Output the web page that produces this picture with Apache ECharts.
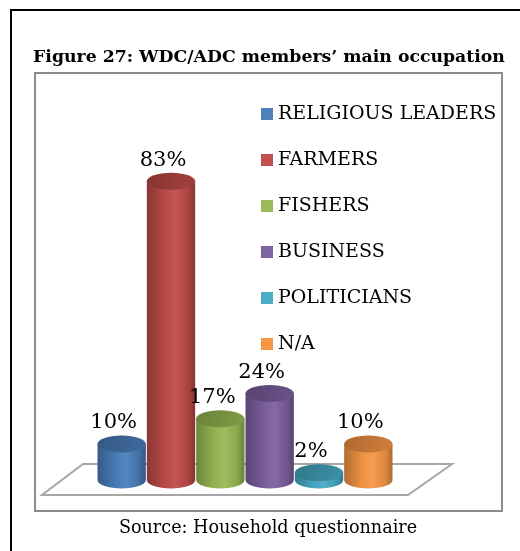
<!DOCTYPE html>
<html>
<head>
<meta charset="utf-8">
<script src="https://cdn.jsdelivr.net/npm/echarts@6/dist/echarts.min.js"></script>
<style>
  html, body { margin: 0; padding: 0; background: #fff; }
  #chart { width: 520px; height: 551px; }
</style>
</head>
<body>
<div id="chart"></div>
<script>
// Occupation categories and their shares (%)
const categories = ['RELIGIOUS LEADERS', 'FARMERS', 'FISHERS', 'BUSINESS', 'POLITICIANS', 'N/A'];
const shares = [10, 83, 17, 24, 2, 10];
const bodyColors = ['#4A7EBB', '#BE4B48', '#98B954', '#7D60A0', '#46AAC5', '#F79646'];
const legendColors = ['#4F81BD', '#C0504D', '#9BBB59', '#8064A2', '#4BACC6', '#F79646'];

const FONT = '"DejaVu Serif", "Liberation Serif", serif';

function shade(hex, f) {
  const n = parseInt(hex.slice(1), 16);
  let r = (n >> 16) & 255, g = (n >> 8) & 255, b = n & 255;
  const adj = c => {
    const v = f < 1 ? c * f : c + (255 - c) * (f - 1);
    return Math.max(0, Math.min(255, Math.round(v)));
  };
  return 'rgb(' + adj(r) + ',' + adj(g) + ',' + adj(b) + ')';
}

// One cylinder per category
function renderCylinder(params, api) {
  const idx = api.value(0);
  const v = api.value(1);
  const base = api.coord([idx, 0]);
  const top = api.coord([idx, v]);
  const bw = api.size([1, 0])[0];
  const rx = bw / 2 - 0.5;
  const ry = 8.5;
  const cx = base[0];
  const col = bodyColors[idx];
  const bodyFill = new echarts.graphic.LinearGradient(0, 0, 1, 0, [
    { offset: 0, color: shade(col, 0.72) },
    { offset: 0.35, color: shade(col, 0.95) },
    { offset: 0.6, color: shade(col, 1.06) },
    { offset: 0.85, color: shade(col, 0.9) },
    { offset: 1, color: shade(col, 0.7) }
  ]);
  const topFill = new echarts.graphic.LinearGradient(0, 0, 1, 1, [
    { offset: 0, color: shade(col, 0.7) },
    { offset: 1, color: shade(col, 0.85) }
  ]);
  const x0 = cx - rx, x1 = cx + rx;
  const pathData = 'M' + x0 + ' ' + top[1] +
    ' L' + x0 + ' ' + base[1] +
    ' A' + rx + ' ' + ry + ' 0 0 0 ' + x1 + ' ' + base[1] +
    ' L' + x1 + ' ' + top[1] + ' Z';
  return {
    type: 'group',
    children: [
      {
        type: 'path',
        shape: { pathData: pathData },
        style: { fill: bodyFill, stroke: null }
      },
      {
        type: 'ellipse',
        shape: { cx: cx, cy: top[1], rx: rx, ry: ry },
        style: { fill: topFill, stroke: null }
      },
      {
        type: 'text',
        x: cx - 8,
        y: top[1] - ry - 2,
        style: {
          text: v + '%',
          fill: '#000',
          font: '21px ' + FONT,
          align: 'center',
          verticalAlign: 'bottom'
        }
      }
    ]
  };
}

// Floor plate under the cylinders
function renderFloor(params, api) {
  const first = api.coord([0, 0]);
  const last = api.coord([categories.length - 1, 0]);
  const bw = api.size([1, 0])[0];
  const L = first[0] - bw / 2;
  const R = last[0] + bw / 2;
  const y = first[1];
  return {
    type: 'polygon',
    shape: {
      points: [
        [L - 14, y - 16],
        [R + 59, y - 16],
        [R + 15, y + 15],
        [L - 55, y + 15]
      ]
    },
    style: { fill: '#fff', stroke: '#a6a6a6', lineWidth: 2 }
  };
}

const series = [{
  type: 'custom',
  name: '_floor',
  renderItem: renderFloor,
  data: [[0, 0]],
  silent: true,
  z: 1
}];
categories.forEach((name, i) => {
  series.push({
    type: 'custom',
    name: name,
    renderItem: renderCylinder,
    data: [[i, shares[i]]],
    encode: { x: 0, y: 1 },
    itemStyle: { color: legendColors[i] },
    z: 2 + i
  });
});

const chart = echarts.init(document.getElementById('chart'), null, { renderer: 'canvas' });
chart.setOption({
  backgroundColor: '#fff',
  animation: false,
  title: {
    text: 'Figure 27: WDC/ADC members\u2019 main occupation',
    left: 269,
    top: 49,
    textAlign: 'center',
    padding: 0,
    textStyle: { fontFamily: FONT, fontWeight: 'bold', fontSize: 17.3, color: '#000' }
  },
  graphic: [
    {
      type: 'rect',
      shape: { x: 11, y: 10, width: 600, height: 600 },
      style: { fill: null, stroke: '#000', lineWidth: 2 },
      z: 0
    },
    {
      type: 'rect',
      shape: { x: 35, y: 73, width: 467, height: 438 },
      style: { fill: null, stroke: '#8c8c8c', lineWidth: 2 },
      z: 0
    },
    {
      type: 'text',
      x: 268,
      y: 528,
      style: {
        text: 'Source: Household questionnaire',
        font: '17.6px ' + FONT,
        fill: '#000',
        align: 'center',
        verticalAlign: 'middle'
      }
    }
  ],
  legend: {
    data: categories,
    orient: 'vertical',
    left: 261,
    top: 104,
    padding: 0,
    icon: 'rect',
    itemWidth: 12,
    itemHeight: 12,
    itemGap: 26,
    textStyle: { fontFamily: FONT, fontSize: 19, lineHeight: 20, color: '#000' },
    selectedMode: false
  },
  grid: { left: 97, right: 127, top: 120, bottom: 71, containLabel: false },
  xAxis: { type: 'category', data: categories, show: false },
  yAxis: { type: 'value', min: 0, max: 100, show: false },
  series: series
});
</script>
</body>
</html>
